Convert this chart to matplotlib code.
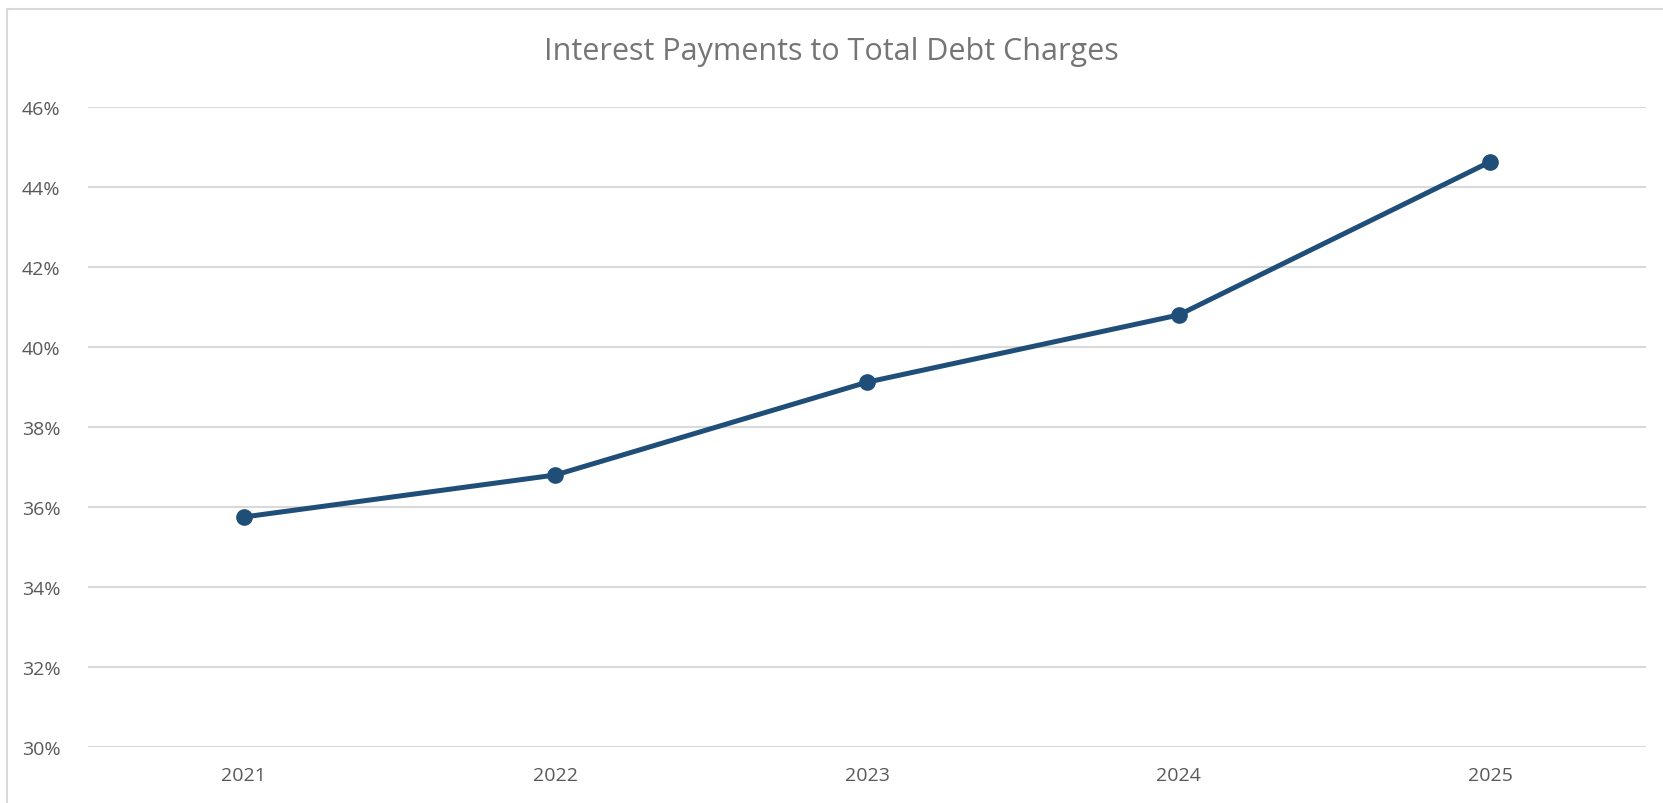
import matplotlib.pyplot as plt
from matplotlib.patches import Rectangle
from matplotlib.ticker import FuncFormatter

# data
years = ['2021', '2022', '2023', '2024', '2025']
ratio = [35.75, 36.8, 39.12, 40.8, 44.63]
y_ticks = [30, 32, 34, 36, 38, 40, 42, 44, 46]

plt.rcParams['font.family'] = ['Open Sans', 'DejaVu Sans']

fig = plt.figure(figsize=(16.63, 8.04), dpi=100)
W, H = 1663, 804

# chart border (excel style)
fig.patches.append(Rectangle((7 / W, -0.1), 1.2, (H - 10) / H + 0.1,
                             transform=fig.transFigure, fill=False,
                             edgecolor='#d9d9d9', linewidth=1.5))

ax = fig.add_axes([88 / W, 56 / H, (1646 - 88) / W, (748 - 108) / H])
x = range(len(years))
ax.plot(x, ratio, color='#1f4e79', linewidth=3.6, marker='o',
        markersize=11, solid_capstyle='round', zorder=3)

ax.set_xlim(-0.5, len(years) - 0.5)
ax.set_ylim(30, 46)
ax.set_yticks(y_ticks)
ax.yaxis.set_major_formatter(FuncFormatter(lambda v, p: '%d%%' % v))
ax.set_xticks(list(x))
ax.set_xticklabels(years)
ax.grid(axis='y', color='#d9d9d9', linewidth=1.5)
ax.set_axisbelow(True)
for s in ax.spines.values():
    s.set_visible(False)
ax.tick_params(length=0, labelsize=14, colors='#595959')
ax.tick_params(axis='y', pad=20)
ax.tick_params(axis='x', pad=14)

fig.text(0.5, 1 - 52 / H, 'Interest Payments to Total Debt Charges',
         ha='center', va='center', fontsize=22, color='#757575')

fig.savefig('out.png', dpi=100)
